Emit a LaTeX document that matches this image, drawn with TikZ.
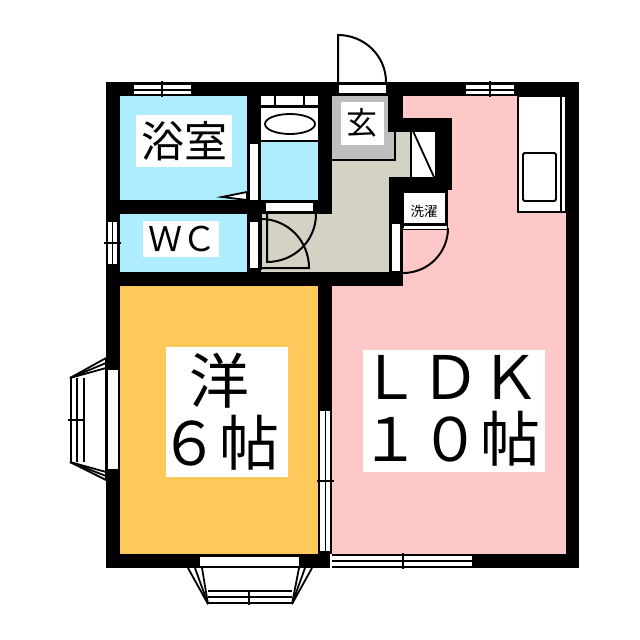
\documentclass[tikz,border=0pt]{standalone}
\usepackage{fontspec}
\newfontfamily\cjk{Noto Sans CJK JP}
\definecolor{bathblue}{HTML}{AEEDFF}
\definecolor{roompink}{HTML}{FFC8C8}
\definecolor{roomorange}{HTML}{FFC85A}
\definecolor{hallbeige}{HTML}{D4D2C4}
\definecolor{entrygray}{HTML}{BEBEBE}
\begin{document}
\begin{tikzpicture}[
      x=1pt,y=-1pt,
      wall/.style={fill=black,draw=none},
      pane/.style={fill=white,draw=none},
      thinline/.style={draw=black,line width=1.8pt},
      door/.style={draw=black,line width=2pt},
      roomlabel/.style={
         fill=white,
         inner sep=0pt,
         align=center,
         font=\cjk
      },
      bigtext/.style={
         inner sep=0pt,
         align=center,
         font=\cjk\fontsize{60}{62}\selectfont
      },
   ]
   \useasboundingbox (0,0) rectangle (640,640);
   % floors
   \fill[roompink] (403,96) -- (566,96) -- (566,554) -- (332,554) -- (332,286) -- (403,286) -- cycle;
   \fill[roomorange] (120,286) rectangle (318,554);
   \fill[bathblue] (120,96) rectangle (247,200);
   \fill[bathblue] (120,214) rectangle (247,272);
   \fill[bathblue] (261,141) rectangle (318,200);
   \fill[white] (261,96) rectangle (318,141);
   \fill[hallbeige] (261,214) -- (332,214) -- (332,160) -- (395,160) -- (395,132)
      -- (411,132) -- (411,177) -- (389,177) -- (389,272) -- (261,272) -- cycle;
   \fill[entrygray] (332,96) -- (388,96) -- (388,132) -- (395,132) -- (395,160) -- (332,160) -- cycle;
   \fill[white] (411,129) rectangle (435,177);
   % walls
   \path[wall] (106,82) rectangle (579,96);
   \path[wall] (106,82) rectangle (120,568);
   \path[wall] (566,82) rectangle (579,568);
   \path[wall] (106,554) rectangle (330,568);
   \path[wall] (472,554) rectangle (579,568);
   \path[wall] (106,272) rectangle (403,286);
   \path[wall] (120,200) rectangle (332,214);
   \path[wall] (247,96) rectangle (261,272);
   \path[wall] (318,96) rectangle (332,214);
   \path[wall] (318,286) rectangle (332,554);
   \path[wall] (388,96) rectangle (403,132);
   \path[wall] (388,118) rectangle (452,132);
   \path[wall] (435,118) rectangle (452,190);
   \path[wall] (389,177) rectangle (452,190);
   \path[wall] (389,177) rectangle (403,286);
   \path[wall] (261,96) rectangle (318,108);
   % thin outlines
   \draw[thinline] (332,160) -- (395,160) -- (395,132);
   \draw[thinline] (411,130) -- (411,177);
   \draw[thinline] (413,131) -- (434,177);
   \draw[thinline] (261,141) -- (318,141);
   \draw[thinline] (261,270) -- (261,214);
   % panes in the walls
   \path[pane] (261,96) rectangle (274,105);
   \path[pane] (276,96) rectangle (303,105);
   \path[pane] (305,96) rectangle (318,105);
   \path[pane] (250,144) rectangle (258,200);
   \path[pane] (250,222) rectangle (258,268);
   \path[pane] (266,203) rectangle (313,211);
   \path[pane] (339,85) rectangle (386,93);
   \path[pane] (392,224) rectangle (400,271);
   \path[pane] (108,370) rectangle (118,469);
   \path[pane] (200,557) rectangle (299,566);
   % top windows
   \path[pane] (134,85) rectangle (191,94);
   \draw[thinline] (134,90) -- (191,90);
   \draw[thinline] (162,81) -- (162,97);
   \path[pane] (466,85) rectangle (514,94);
   \draw[thinline] (466,90) -- (514,90);
   \draw[thinline] (490,81) -- (490,97);
   % window of the wc
   \path[pane] (108,222) rectangle (117,264);
   \draw[thinline] (112.5,222) -- (112.5,264);
   \draw[thinline] (104,243) -- (121,243);
   % window between the rooms
   \path[pane] (320,411) rectangle (330,551);
   \draw[thinline] (325.5,411) -- (325.5,551);
   \draw[thinline] (317,481) -- (334,481);
   % window of the ldk
   \path[pane] (332,557) rectangle (472,566);
   \draw[thinline] (332,555) -- (472,555);
   \draw[thinline] (332,561) -- (472,561);
   \draw[thinline] (332,567) -- (472,567);
   \draw[thinline] (403,553) -- (403,569);
   % bay on the left
   \draw[thinline] (106,358) -- (106,480);
   \draw[thinline] (71,378) -- (71,462);
   \draw[thinline] (77,378) -- (77,462);
   \draw[thinline] (84,378) -- (84,462);
   \draw[thinline] (106,358) -- (70,378);
   \draw[thinline] (106,363) -- (70,378);
   \draw[thinline] (106,368) -- (70,378);
   \draw[thinline] (106,480) -- (70,462);
   \draw[thinline] (106,476) -- (70,462);
   \draw[thinline] (106,472) -- (70,462);
   \draw[thinline] (68,420) -- (84,420);
   \draw[thinline] (77,416) -- (77,424);
   % bay below
   \draw[thinline] (208,591) -- (292,591);
   \draw[thinline] (208,597) -- (292,597);
   \draw[thinline] (208,603) -- (292,603);
   \draw[thinline] (188,568) -- (208,604);
   \draw[thinline] (195,568) -- (208,604);
   \draw[thinline] (202,568) -- (208,604);
   \draw[thinline] (312,568) -- (292,604);
   \draw[thinline] (305,568) -- (292,604);
   \draw[thinline] (299,568) -- (292,604);
   \draw[thinline] (249,591) -- (249,605);
   \draw[thinline] (245,597) -- (253,597);
   \draw[thinline] (200,567) -- (299,567);
   % tub and sink
   \draw[thinline] (290,124) ellipse (25 and 10);
   \draw[thinline,fill=white] (518,96) rectangle (566,212);
   \draw[thinline] (561,96) -- (561,212);
   \draw[thinline,fill=white,rounded corners=1.5pt] (523,153) rectangle (556,201);
   \draw[thinline,fill=white] (222,197) -- (247,192) -- (247,200) -- cycle;
   % washer
   \path[wall] (403,190) rectangle (448,228);
   \path[pane] (404,193) rectangle (445,223);
   \path[pane] (404,226) rectangle (447,229);
   \draw[thinline] (403,229.5) -- (448,229.5);
   % doors
   \draw[door] (338,82) -- (338,35) .. controls (364.5,35) and (386,56) .. (386,82);
   \draw[door] (338,83) -- (386,83);
   \draw[door] (403,273) .. controls (428,273) and (448,253) .. (448,228);
   \draw[door] (316,214) .. controls (316,241) and (294,262) .. (267,262) -- (267,214);
   \draw[door] (261,219) .. controls (288,219) and (309,241) .. (309,268) -- (261,268);
   % labels
   \node[roomlabel,minimum width=96pt,minimum height=52pt,font=\cjk\fontsize{43}{43}\selectfont] (bath) at (184,141) {浴室};
   \node[roomlabel,minimum width=76pt,minimum height=36pt,font=\cjk\fontsize{34}{34}\selectfont] (wc) at (181,239) {\hspace*{3pt}ＷＣ};
   \node[roomlabel,minimum width=43pt,minimum height=43pt,font=\cjk\fontsize{31}{31}\selectfont] (entry) at (362,123) {玄};
   \node[roomlabel,minimum width=30pt,minimum height=24pt,font=\cjk\fontsize{13.5}{13.5}\selectfont] (washer) at (424,211) {洗濯};
   \node[roomlabel,minimum width=122pt,minimum height=130pt] (westernbox) at (227,412) {};
   \node[bigtext,xshift=-8pt] (western) at (westernbox) {洋\\６帖};
   \node[roomlabel,minimum width=182pt,minimum height=122pt] (ldkbox) at (454,411) {};
   \node[bigtext,xshift=-4pt] (ldk) at (ldkbox) {ＬＤＫ\\１０帖};
\end{tikzpicture}
\end{document}
